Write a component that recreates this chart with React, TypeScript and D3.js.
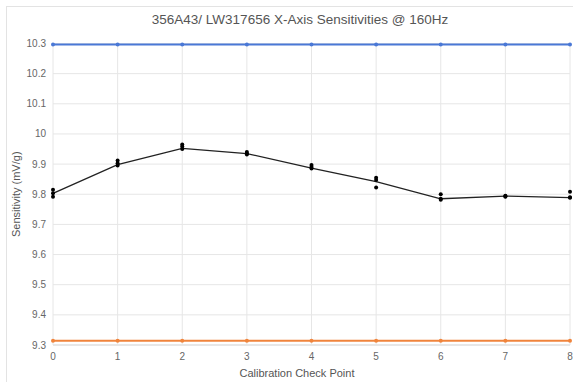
import React from "react";
import * as d3 from "d3";

const checkPoints = [0, 1, 2, 3, 4, 5, 6, 7, 8];
const yTicks = [9.3, 9.4, 9.5, 9.6, 9.7, 9.8, 9.9, 10, 10.1, 10.2, 10.3];
const upperLimit = [10.297, 10.297, 10.297, 10.297, 10.297, 10.297, 10.297, 10.297, 10.297];
const lowerLimit = [9.314, 9.314, 9.314, 9.314, 9.314, 9.314, 9.314, 9.314, 9.314];
const meanSensitivity = [9.803, 9.898, 9.952, 9.935, 9.887, 9.842, 9.785, 9.794, 9.789];
const measurements = [
  [9.815, 9.803, 9.792],
  [9.912, 9.903, 9.895],
  [9.965, 9.958, 9.95],
  [9.94, 9.935, 9.932],
  [9.897, 9.89, 9.885],
  [9.855, 9.847, 9.822],
  [9.8, 9.785, 9.782],
  [9.795, 9.793, 9.792],
  [9.808, 9.79, 9.788],
];

const W = 573;
const H = 382;
const left = 53;
const right = 570;
const top = 43.5;
const bottom = 345;
const font = "'Liberation Sans', Arial, sans-serif";

export default function App() {
  const x = d3.scaleLinear().domain([0, 8]).range([left, right]);
  const y = d3.scaleLinear().domain([9.3, 10.3]).range([bottom, top]);
  const line = d3
    .line<number>()
    .x((_, i) => x(checkPoints[i]))
    .y((d) => y(d));

  return (
    <svg
      width={W}
      height={H}
      style={{ position: "absolute", left: 0, top: 0, background: "#fff" }}
      fontFamily={font}
    >
      <rect x={6.5} y={6.5} width={W} height={H} fill="none" stroke="#e3e3e3" />
      <text x={300} y={24} textAnchor="middle" fontSize={13.5} fill="#555">
        356A43/ LW317656 X-Axis Sensitivities @ 160Hz
      </text>
      {yTicks.map((t) => (
        <g key={"y" + t}>
          <line x1={left} x2={right} y1={y(t)} y2={y(t)} stroke={t === 9.3 ? "#cfcfcf" : "#e6e6e6"} />
          <text x={46} y={y(t) + 3.5} textAnchor="end" fontSize={10} fill="#666">
            {d3.format("")(t)}
          </text>
        </g>
      ))}
      {checkPoints.map((c) => (
        <g key={"x" + c}>
          <line x1={x(c)} x2={x(c)} y1={top} y2={bottom} stroke="#e6e6e6" />
          <text x={x(c)} y={360} textAnchor="middle" fontSize={10} fill="#666">
            {c}
          </text>
        </g>
      ))}
      <text x={297} y={377} textAnchor="middle" fontSize={11} fill="#555">
        Calibration Check Point
      </text>
      <text
        transform={`translate(20,${(top + bottom) / 2}) rotate(-90)`}
        textAnchor="middle"
        fontSize={11}
        fill="#555"
      >
        Sensitivity (mV/g)
      </text>

      <path d={line(upperLimit) || ""} fill="none" stroke="#4a78d6" strokeWidth={2} />
      {upperLimit.map((v, i) => (
        <circle key={"u" + i} cx={x(checkPoints[i])} cy={y(v)} r={2} fill="#4a78d6" />
      ))}
      <path d={line(lowerLimit) || ""} fill="none" stroke="#f0843c" strokeWidth={2} />
      {lowerLimit.map((v, i) => (
        <circle key={"l" + i} cx={x(checkPoints[i])} cy={y(v)} r={2} fill="#f0843c" />
      ))}
      <path d={line(meanSensitivity) || ""} fill="none" stroke="#222" strokeWidth={1.3} />
      {measurements.map((vals, i) =>
        vals.map((v, j) => (
          <circle key={`m${i}-${j}`} cx={x(checkPoints[i])} cy={y(v)} r={2} fill="#000" />
        ))
      )}
    </svg>
  );
}
